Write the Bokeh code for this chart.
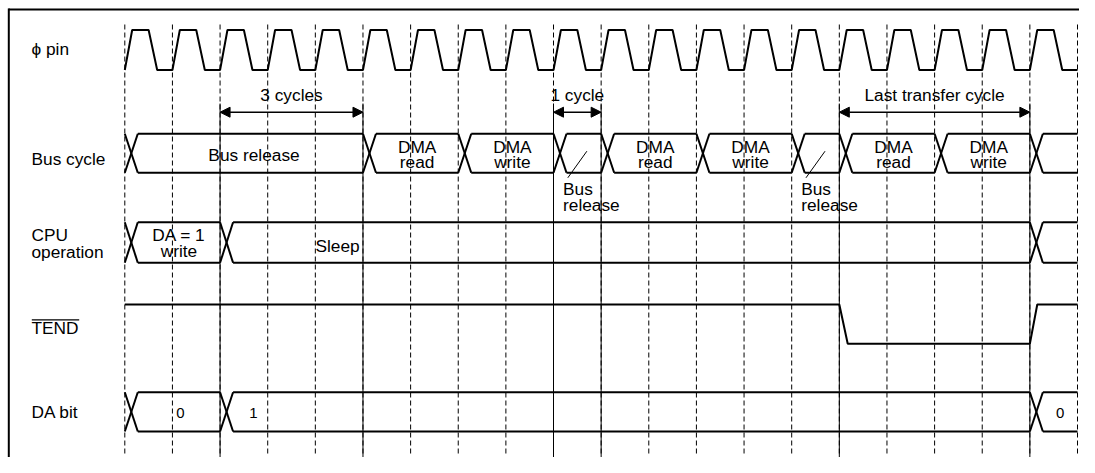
from bokeh.plotting import figure
from bokeh.models import Range1d, Arrow, NormalHead
from bokeh.core.properties import value
from bokeh.embed import file_html
from bokeh.resources import INLINE

# ---------------- data (timing in clock cycles) ----------------
n_cycles = 20
signal_names = ["\u03d5 pin", "Bus cycle", "CPU\noperation", "TEND", "DA bit"]

bus_edges = [0, 5, 7, 9, 10, 12, 14, 15, 17, 19, 20]
bus_states = ["Bus release", "DMA\nread", "DMA\nwrite", "", "DMA\nread",
              "DMA\nwrite", "", "DMA\nread", "DMA\nwrite", ""]
bus_release_notes = [9, 14]          # short bus-release cycles with call-out

cpu_edges = [0, 2, 19, 20]
cpu_states = ["DA = 1\nwrite", "Sleep", ""]

tend_low = [15, 19]                  # TEND asserted (low) between these cycles

da_edges = [0, 2, 19, 20]
da_states = ["0", "1", "0"]

marker_cycles = [2, 5, 9, 10, 15, 19]
span_starts = [2, 9, 15]
span_ends = [5, 10, 19]
span_texts = ["3 cycles", "1 cycle", "Last transfer cycle"]

# ---------------- layout (pixels) ----------------
X0 = 124.3          # x of cycle 0
CW = 47.635         # pixels per cycle
W, H = 1079, 457
FONT = value("Liberation Sans")
FS = "17.3px"

def cx(xpx):
    return (xpx - X0) / CW

XW = 13.0 / CW      # width of a bus transition "X"
CLK = [0.0, 0.155, 0.50, 0.68]
CLK_HI, CLK_LO = 29.5, 69.5
BUS = (133.3, 172.3)
CPU = (221.7, 262.3)
TEND = (304.0, 343.3)
DA = (391.7, 431.0)
ARROW_Y = 111.7

p = figure(width=W, height=H, output_backend="svg", toolbar_location=None,
           x_range=Range1d(cx(0), cx(W)), y_range=Range1d(H, 0),
           min_border=0, outline_line_color=None,
           x_axis_location=None, y_axis_location=None)
p.xgrid.visible = False
p.ygrid.visible = False
p.background_fill_color = "white"

def txt(xs, ys, t, align="center", size=FS):
    p.text(xs, ys, text=t, text_font=FONT, text_font_size=size,
           text_align=align, text_baseline="middle", text_color="black")

# frame (left and top edges only)
p.line([cx(8.3), cx(8.3)], [8, 480], line_color="black", line_width=2)
p.line([cx(8), cx(1100)], [9, 9], line_color="black", line_width=2)

# dashed cycle grid
cyc = list(range(n_cycles + 1))
p.segment(x0=cyc, y0=[24] * len(cyc), x1=cyc, y1=[453] * len(cyc),
          line_color="black", line_width=1, line_dash="5 3")
# solid markers
p.segment(x0=marker_cycles, y0=[103] * len(marker_cycles), x1=marker_cycles,
          y1=[458] * len(marker_cycles), line_color="black", line_width=1)

# clock
clk_x, clk_y = [], []
for c in range(n_cycles):
    clk_x.extend([c + CLK[0], c + CLK[1], c + CLK[2], c + CLK[3]])
    clk_y.extend([CLK_LO, CLK_HI, CLK_HI, CLK_LO])
clk_x.append(n_cycles)
clk_y.append(CLK_LO)
p.line(clk_x, clk_y, line_color="black", line_width=2)

# generic bus-style row; returns label anchor positions
def bus_row(edges, states, top, bot):
    xs, ys, centers = [], [], []
    for i, s in enumerate(states):
        e0, e1 = edges[i], edges[i + 1]
        xs.extend([[e0, e0 + XW], [e0, e0 + XW], [e0 + XW, e1], [e0 + XW, e1]])
        ys.extend([[top, bot], [bot, top], [top, top], [bot, bot]])
        centers.append((e0 + XW + e1) / 2)
    p.multi_line(xs, ys, line_color="black", line_width=2)
    return centers

bus_c = bus_row(bus_edges, bus_states, *BUS)
cpu_c = bus_row(cpu_edges, cpu_states, *CPU)
da_c = bus_row(da_edges, da_states, *DA)

# bus texts
bx, by, bt = [], [], []
for i, s in enumerate(bus_states):
    if not s:
        continue
    lines = s.split("\n")
    if len(lines) == 1:
        bx.append(cx(253.5)); by.append(154.0); bt.append(s)
    else:
        bx.extend([bus_c[i], bus_c[i]]); by.extend([146.3, 161.7]); bt.extend(lines)
txt(bx, by, bt)

# CPU texts
l1, l2 = cpu_states[0].split("\n")
txt([cpu_c[0], cpu_c[0]], [234.7, 250.7], [l1, l2])
txt([cx(315)], [245.0], [cpu_states[1]], align="left")

# DA texts
txt([cx(180), cx(253), da_c[2]], [412.0] * 3, da_states, size="15px")

# TEND waveform
tx = [0, tend_low[0], tend_low[0] + 8.4 / CW, tend_low[1], tend_low[1] + 7.4 / CW, n_cycles]
ty = [TEND[0], TEND[0], TEND[1], TEND[1], TEND[0], TEND[0]]
p.line(tx, ty, line_color="black", line_width=2)

# bus-release call-outs
for c in bus_release_notes:
    p.line([c + 0.70, c + 0.30], [150.7, 177.3], line_color="black", line_width=1)
    txt([c + 0.20, c + 0.20], [188.0, 204.0], ["Bus", "release"], align="left")

# span arrows
for a, b in zip(span_starts, span_ends):
    p.add_layout(Arrow(start=NormalHead(size=10, fill_color="black", line_color="black", line_width=1),
                       end=NormalHead(size=10, fill_color="black", line_color="black", line_width=1),
                       x_start=a, y_start=ARROW_Y, x_end=b, y_end=ARROW_Y,
                       line_color="black", line_width=1.5))
txt([(a + b) / 2 for a, b in zip(span_starts, span_ends)], [94.5] * 3, span_texts)

# signal names
lab_x, lab_y, lab_t = [], [], []
label_centers = [[48.0], [158.0], [234.0, 251.5], [327.3], [411.3]]
for name, cy in zip(signal_names, label_centers):
    for line, y in zip(name.split("\n"), cy):
        lab_x.append(cx(31)); lab_y.append(y); lab_t.append(line)
txt(lab_x, lab_y, lab_t, align="left")
# overline of TEND (active-low)
p.line([cx(31.3), cx(78.7)], [319.3, 319.3], line_color="black", line_width=1.2)

open("out.html", "w").write(file_html(p, INLINE))
